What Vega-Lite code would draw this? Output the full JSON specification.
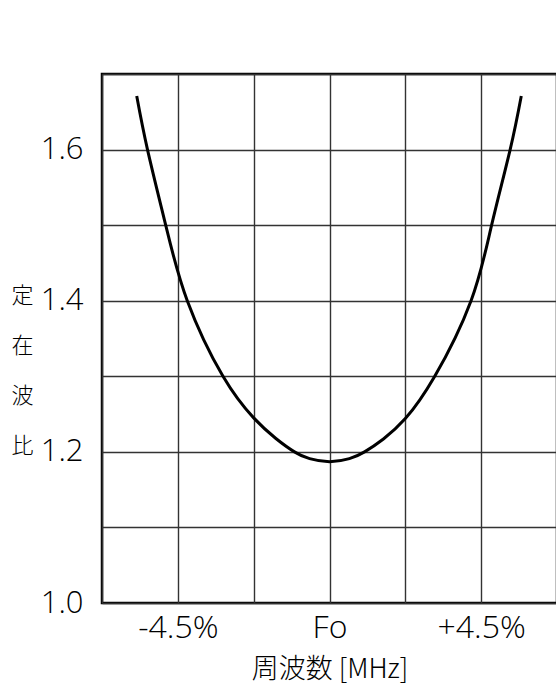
{
  "$schema": "https://vega.github.io/schema/vega-lite/v6.json",
  "width": 455,
  "height": 529,
  "autosize": {"type": "none"},
  "padding": {"left": 102, "top": 74, "right": 0, "bottom": 83},
  "background": "white",
  "config": {
    "view": {"stroke": "#000", "strokeWidth": 2.5},
    "axis": {
      "labelFont": "Open Sans",
      "labelFontWeight": 300,
      "labelColor": "#000",
      "gridColor": "#333",
      "gridWidth": 1.4,
      "gridOpacity": 1,
      "domain": false,
      "ticks": false
    }
  },
  "data": {
    "values": [
      {"f": -5.72, "vswr": 1.671},
      {"f": -5.40, "vswr": 1.600},
      {"f": -4.86, "vswr": 1.500},
      {"f": -4.22, "vswr": 1.400},
      {"f": -3.16, "vswr": 1.300},
      {"f": -2.25, "vswr": 1.245},
      {"f": -1.60, "vswr": 1.218},
      {"f": -1.04, "vswr": 1.200},
      {"f": -0.59, "vswr": 1.191},
      {"f": 0.00, "vswr": 1.187},
      {"f": 0.59, "vswr": 1.191},
      {"f": 1.04, "vswr": 1.200},
      {"f": 1.60, "vswr": 1.217},
      {"f": 2.25, "vswr": 1.244},
      {"f": 3.11, "vswr": 1.299},
      {"f": 4.20, "vswr": 1.400},
      {"f": 4.81, "vswr": 1.500},
      {"f": 5.36, "vswr": 1.600},
      {"f": 5.69, "vswr": 1.671}
    ]
  },
  "mark": {"type": "line", "color": "#000", "strokeWidth": 3, "interpolate": "natural", "clip": true},
  "encoding": {
    "x": {
      "field": "f",
      "type": "quantitative",
      "scale": {"domain": [-6.75, 6.75], "nice": false, "zero": false},
      "axis": {
        "values": [-6.75, -4.5, -2.25, 0, 2.25, 4.5, 6.75],
        "labelExpr": "datum.value == -4.5 ? '-4.5%' : datum.value == 0 ? 'Fo' : datum.value == 4.5 ? '+4.5%' : ''",
        "labelFontSize": 32,
        "labelPadding": 9,
        "labelFlush": false,
        "title": "周波数 [MHz]",
        "titleFont": "Noto Sans CJK JP",
        "titleFontWeight": 300,
        "titleFontSize": 27,
        "titleColor": "#000",
        "titlePadding": 13
      }
    },
    "y": {
      "field": "vswr",
      "type": "quantitative",
      "scale": {"domain": [1.0, 1.7], "nice": false, "zero": false},
      "axis": {
        "values": [1.0, 1.1, 1.2, 1.3, 1.4, 1.5, 1.6, 1.7],
        "labelExpr": "round(datum.value * 10) % 2 == 0 && datum.value < 1.65 ? format(datum.value, '.1f') : ''",
        "labelFontSize": 31,
        "labelPadding": 19,
        "title": ["定", "在", "波", "比"],
        "titleFont": "Noto Sans CJK JP",
        "titleFontWeight": 300,
        "titleFontSize": 22,
        "titleColor": "#000",
        "titleAngle": 0,
        "titleLineHeight": 50,
        "titleAlign": "center",
        "titleBaseline": "top",
        "titleX": -80,
        "titleY": 211
      }
    }
  }
}
